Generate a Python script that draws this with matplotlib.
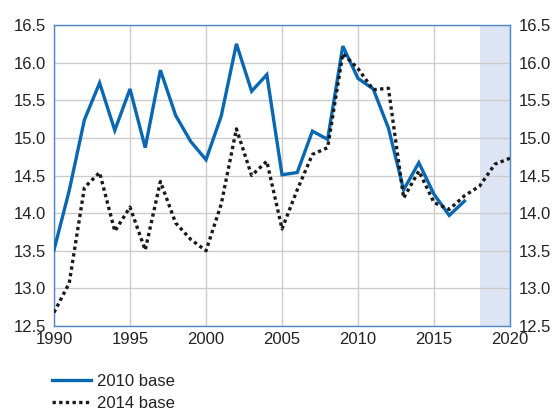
import matplotlib
matplotlib.use('Agg')
import matplotlib.pyplot as plt
from matplotlib.lines import Line2D

plt.rcParams['font.family'] = ['Liberation Sans', 'DejaVu Sans']

years_2010 = list(range(1990, 2018))
base_2010 = [13.51, 14.30, 15.24, 15.73, 15.10, 15.65, 14.87, 15.90, 15.30, 14.95,
             14.71, 15.29, 16.25, 15.62, 15.84, 14.51, 14.54, 15.09, 14.98, 16.22,
             15.79, 15.65, 15.13, 14.31, 14.67, 14.25, 13.97, 14.16]
years_2014 = list(range(1990, 2021))
base_2014 = [12.68, 13.07, 14.34, 14.54, 13.76, 14.08, 13.51, 14.42, 13.87, 13.65,
             13.50, 14.12, 15.12, 14.50, 14.69, 13.79, 14.31, 14.78, 14.87, 16.12,
             15.92, 15.64, 15.66, 14.20, 14.56, 14.14, 14.05, 14.23, 14.36, 14.65,
             14.73]
forecast_start, forecast_end = 2018, 2020
xticks = [1990, 1995, 2000, 2005, 2010, 2015, 2020]
yticks = [12.5, 13.0, 13.5, 14.0, 14.5, 15.0, 15.5, 16.0, 16.5]

blue = '#0a67b2'
frame = '#4a8ac9'
txt = '#222222'

fig = plt.figure(figsize=(5.55, 4.12), dpi=100)
ax = fig.add_axes([0.0973, 0.2087, 0.8217, 0.7306])
ax.axvspan(forecast_start, forecast_end, color='#dde4f3', lw=0, zorder=0)
ax.plot(years_2010, base_2010, color=blue, lw=2.4, solid_joinstyle='miter', zorder=3)
ax.plot(years_2014, base_2014, color='#1a1a1a', lw=2.4, linestyle=(0, (1, 1)), zorder=4)

ax.set_xlim(1990, 2020)
ax.set_ylim(12.5, 16.5)
ax.set_xticks(xticks)
ax.set_yticks(yticks)
ax.set_yticklabels([f'{v:.1f}' for v in yticks])
ax.grid(True, color='#cccccc', lw=1.0, zorder=1)
ax.set_axisbelow(True)
for s in ax.spines.values():
    s.set_color(frame)
    s.set_linewidth(1.0)
ax.tick_params(axis='both', length=0, labelsize=12, colors=txt, pad=4)
ax.tick_params(axis='y', labelleft=True, labelright=True, pad=6)

handles = [Line2D([], [], color=blue, lw=2.4),
           Line2D([], [], color='#1a1a1a', lw=2.4, linestyle=(0, (1, 1)))]
fig.legend(handles, ['2010 base', '2014 base'], loc='upper left',
           bbox_to_anchor=(0.094, 0.093), frameon=False, fontsize=12,
           handlelength=2.3, handletextpad=0.4, labelspacing=0.45,
           borderaxespad=0, borderpad=0, labelcolor=txt)

fig.savefig('out.png', dpi=100)
